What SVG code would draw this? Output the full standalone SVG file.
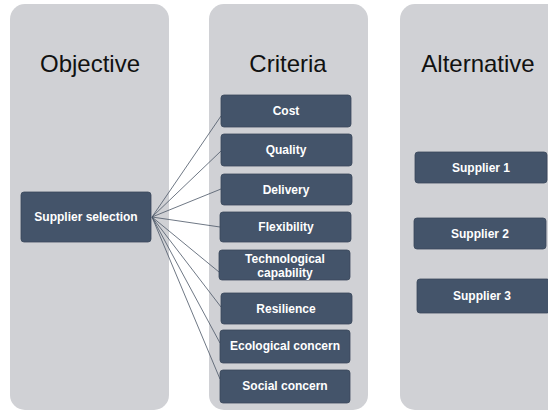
<svg xmlns="http://www.w3.org/2000/svg" width="548" height="412" viewBox="0 0 548 412">
<style>
.panel{fill:#d0d1d5}
.title{font-family:"Liberation Sans",Arial,sans-serif;font-size:24px;fill:#111;text-anchor:middle}
.box{fill:#44546a;stroke:#3a475a;stroke-width:0.8}
.lbl{font-family:"Liberation Sans",Arial,sans-serif;font-size:12px;font-weight:bold;fill:#fff;text-anchor:middle}
.conn{stroke:#4a5566;stroke-width:0.8;fill:none}
</style>
<rect width="548" height="412" fill="#fff"/>
<g id="panel-objective"><rect class="panel" x="10" y="4" width="159" height="406" rx="15"/><text class="title" x="90" y="72">Objective</text></g>
<g id="panel-criteria"><rect class="panel" x="209" y="4" width="159" height="406" rx="15"/><text class="title" x="288" y="72">Criteria</text></g>
<g id="panel-alternative"><rect class="panel" x="400" y="4" width="165" height="406" rx="15"/><text class="title" x="478" y="72">Alternative</text></g>
<g id="connectors">
<line class="conn" x1="152" y1="217" x2="221" y2="116"/>
<line class="conn" x1="152" y1="217" x2="221" y2="151"/>
<line class="conn" x1="152" y1="217" x2="221" y2="189"/>
<line class="conn" x1="152" y1="217" x2="220" y2="227"/>
<line class="conn" x1="152" y1="217" x2="219" y2="272"/>
<line class="conn" x1="152" y1="217" x2="221" y2="307"/>
<line class="conn" x1="152" y1="217" x2="220" y2="343"/>
<line class="conn" x1="152" y1="217" x2="220" y2="379"/>
</g>
<g id="supplier-selection"><rect class="box" x="21" y="192" width="130" height="50" rx="3"/><text class="lbl" x="86" y="221">Supplier selection</text></g>
<g id="cost"><rect class="box" x="221" y="95" width="130" height="32" rx="3"/><text class="lbl" x="286" y="115">Cost</text></g>
<g id="quality"><rect class="box" x="221" y="134" width="131" height="32" rx="3"/><text class="lbl" x="286" y="154">Quality</text></g>
<g id="delivery"><rect class="box" x="221" y="174" width="131" height="31" rx="3"/><text class="lbl" x="286" y="194">Delivery</text></g>
<g id="flexibility"><rect class="box" x="220" y="212" width="131" height="30" rx="3"/><text class="lbl" x="286" y="231">Flexibility</text></g>
<g id="technological"><rect class="box" x="219" y="250" width="131" height="30" rx="3"/><text class="lbl" x="285" y="263">Technological</text><text class="lbl" x="285" y="277">capability</text></g>
<g id="resilience"><rect class="box" x="221" y="293" width="131" height="31" rx="3"/><text class="lbl" x="286" y="313">Resilience</text></g>
<g id="ecological"><rect class="box" x="220" y="330" width="130" height="33" rx="3"/><text class="lbl" x="285" y="350">Ecological concern</text></g>
<g id="social"><rect class="box" x="220" y="370" width="130" height="33" rx="3"/><text class="lbl" x="285" y="390">Social concern</text></g>
<g id="supplier1"><rect class="box" x="415" y="152" width="132" height="31" rx="3"/><text class="lbl" x="481" y="172">Supplier 1</text></g>
<g id="supplier2"><rect class="box" x="414" y="218" width="132" height="31" rx="3"/><text class="lbl" x="480" y="238">Supplier 2</text></g>
<g id="supplier3"><rect class="box" x="417" y="279" width="133" height="34" rx="3"/><text class="lbl" x="482" y="300">Supplier 3</text></g>
</svg>
